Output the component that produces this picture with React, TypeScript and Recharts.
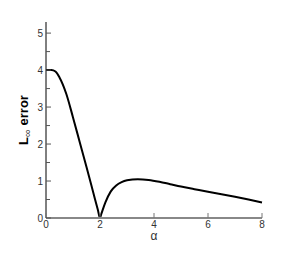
import React from "react";
import { LineChart, Line, XAxis, YAxis } from "recharts";

// values
const alpha = [0, 0.2, 0.35, 0.5, 0.75, 1.0, 1.25, 1.5, 1.75, 1.92, 2.0, 2.04, 2.1, 2.2, 2.4, 2.6, 2.8, 3.0, 3.4, 3.8, 4.2, 4.6, 5.0, 5.5, 6.0, 6.5, 7.0, 7.5, 8.0];
const err = [4.0, 4.0, 3.96, 3.8, 3.36, 2.72, 2.05, 1.38, 0.69, 0.22, 0.0, 0.09, 0.22, 0.42, 0.72, 0.88, 0.97, 1.02, 1.05, 1.03, 0.98, 0.915, 0.85, 0.78, 0.71, 0.645, 0.575, 0.5, 0.42];

const xTicks = [0, 2, 4, 6, 8];
const yTicks = [0, 0.5, 1, 1.5, 2, 2.5, 3, 3.5, 4, 4.5, 5];

const data = alpha.map((a, i) => ({ a, e: err[i] }));

const font = "'Liberation Sans', Arial, sans-serif";

const XTick = (props: any) => {
  const { x, y, payload } = props;
  return (
    <g>
      <line x1={x} y1={y} x2={x} y2={y - 5} stroke="#777" strokeWidth={1} />
      <text x={x} y={y + 10} textAnchor="middle" fontSize={10} fill="#333" fontFamily={font}>
        {payload.value}
      </text>
    </g>
  );
};

const YTick = (props: any) => {
  const { x, y, payload } = props;
  const major = Number.isInteger(payload.value);
  return (
    <g>
      <line x1={x} y1={y} x2={x + (major ? 5 : 4)} y2={y} stroke="#555" strokeWidth={1} />
      {major && (
        <text x={x - 3} y={y + 3.5} textAnchor="end" fontSize={10} fill="#333" fontFamily={font}>
          {payload.value}
        </text>
      )}
    </g>
  );
};

export default function App() {
  return (
    <div style={{ position: "absolute", left: 0, top: 0, width: 288, height: 256, background: "#fff" }}>
      <LineChart width={288} height={256} data={data} margin={{ top: 22, right: 26, left: 0, bottom: 0 }}>
        <XAxis
          dataKey="a" type="number" domain={[0, 8]} ticks={xTicks} height={38}
          axisLine={{ stroke: "#888", strokeWidth: 2 }} tickLine={false}
          tickSize={0} tickMargin={0} tick={<XTick />} interval={0}
          label={{ value: "α", position: "insideBottom", offset: 16, fontSize: 12, fill: "#333", fontFamily: font }}
        />
        <YAxis
          type="number" domain={[0, 5.3]} ticks={yTicks} width={46}
          axisLine={{ stroke: "#000", strokeWidth: 1 }} tickLine={false}
          tickSize={0} tickMargin={0} tick={<YTick />} interval={0}
          label={{
            content: () => (
              <text transform="translate(28,120) rotate(-90)" textAnchor="middle" fontFamily={font} fontSize={13} fontWeight="bold" fill="#000">
                L<tspan fontSize={11} fontWeight="normal" fill="#444" dy={3}>∞</tspan>
                <tspan dy={-3}> error</tspan>
              </text>
            ),
          }}
        />
        <Line type="monotone" dataKey="e" stroke="#000" strokeWidth={2} dot={false} isAnimationActive={false} />
      </LineChart>
    </div>
  );
}
